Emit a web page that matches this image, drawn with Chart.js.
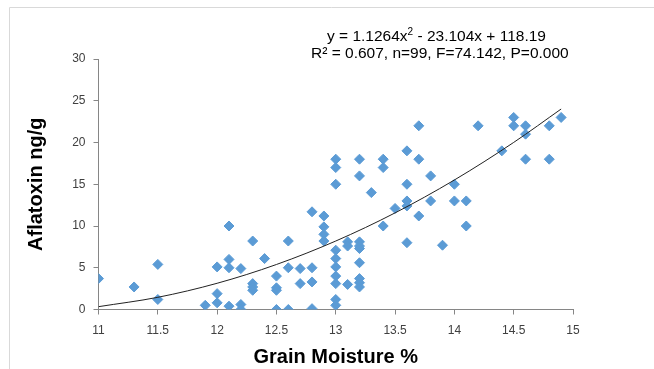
<!DOCTYPE html>
<html>
<head>
<meta charset="utf-8">
<script src="https://cdn.jsdelivr.net/npm/chart.js@4/dist/chart.umd.min.js"></script>
<style>
html,body{margin:0;padding:0;background:#fff;}
#wrap{width:654px;height:369px;position:relative;}
</style>
</head>
<body>
<div id="wrap"><canvas id="c" width="654" height="369"></canvas></div>
<script>
// Grain moisture (%) of each sample
const moisture = [
  11.0,
  11.3,
  11.5, 11.5,
  11.9,
  12.0, 12.0, 12.0,
  12.1, 12.1, 12.1, 12.1,
  12.2, 12.2, 12.2,
  12.3, 12.3, 12.3, 12.3,
  12.4,
  12.5, 12.5, 12.5, 12.5,
  12.6, 12.6, 12.6,
  12.7, 12.7,
  12.8, 12.8, 12.8, 12.8,
  12.9, 12.9, 12.9, 12.9,
  13.0, 13.0, 13.0, 13.0, 13.0, 13.0, 13.0, 13.0, 13.0, 13.0,
  13.1, 13.1, 13.1,
  13.2, 13.2, 13.2, 13.2, 13.2, 13.2, 13.2, 13.2, 13.2,
  13.3,
  13.4, 13.4, 13.4,
  13.5,
  13.6, 13.6, 13.6, 13.6, 13.6,
  13.7, 13.7, 13.7,
  13.8, 13.8,
  13.9,
  14.0, 14.0,
  14.1, 14.1,
  14.2,
  14.4,
  14.5, 14.5,
  14.6, 14.6, 14.6,
  14.8, 14.8,
  14.9
];
// Aflatoxin (ng/g) of each sample
const aflatoxin = [
  3.7,
  2.7,
  5.4, 1.2,
  0.5,
  5.1, 1.9, 0.8,
  10.0, 6.0, 5.0, 0.4,
  4.9, 0.6, 0.0,
  8.2, 3.1, 2.7, 2.3,
  6.1,
  4.0, 2.6, 2.3, 0.0,
  8.2, 5.0, 0.0,
  4.9, 3.1,
  11.7, 5.0, 3.3, 0.1,
  11.2, 9.9, 9.0, 8.2,
  18.0, 17.0, 15.0, 7.1, 6.1, 5.1, 4.0, 3.1, 1.2, 0.5,
  8.1, 7.6, 3.0,
  18.0, 16.0, 8.1, 7.6, 7.3, 5.6, 3.7, 3.2, 2.7,
  14.0,
  18.0, 17.0, 10.0,
  12.1,
  19.0, 15.0, 13.0, 12.4, 8.0,
  22.0, 18.0, 11.2,
  16.0, 13.0,
  7.7,
  15.0, 13.0,
  13.0, 10.0,
  22.0,
  19.0,
  23.0, 22.0,
  22.0, 21.0, 18.0,
  22.0, 18.0,
  23.0
];
// Polynomial trendline as drawn in the picture
const trendX = [11.0, 11.5, 12.0, 12.5, 13.0, 13.5, 14.0, 14.5, 14.9];
const trendY = [0.34, 1.46, 3.14, 5.39, 8.20, 11.57, 15.51, 20.01, 24.01];
const xTicks = [11, 11.5, 12, 12.5, 13, 13.5, 14, 14.5, 15];
const yTicks = [0, 5, 10, 15, 20, 25, 30];
const eqLine = 'y = 1.1264x² - 23.104x + 118.19';
const statLine = 'R² = 0.607, n=99, F=74.142, P=0.000';

const points = moisture.map((x, i) => ({x: x, y: aflatoxin[i]}));
const trend = trendX.map((x, i) => ({x: x, y: trendY[i]}));

const FONT = '"Liberation Sans", Arial, sans-serif';
const axisColor = '#868686';

const decor = {
  id: 'decor',
  beforeDraw(chart) {
    const ctx = chart.ctx;
    ctx.save();
    ctx.strokeStyle = '#d9d9d9';
    ctx.lineWidth = 1;
    ctx.beginPath();
    ctx.moveTo(9.5, 369);
    ctx.lineTo(9.5, 7.5);
    ctx.lineTo(654, 7.5);
    ctx.stroke();
    ctx.restore();
  },
  afterDraw(chart) {
    const ctx = chart.ctx;
    ctx.save();
    ctx.fillStyle = '#000';
    ctx.font = '15.5px ' + FONT;
    ctx.textBaseline = 'alphabetic';
    ctx.textAlign = 'left';
    // equation with superscript
    const parts = eqLine.split('²');
    let x = 327;
    const yb = 41;
    ctx.fillText(parts[0], x, yb);
    x += ctx.measureText(parts[0]).width;
    ctx.font = '10px ' + FONT;
    ctx.fillText('2', x, yb - 6);
    x += ctx.measureText('2').width;
    ctx.font = '15.5px ' + FONT;
    ctx.fillText(parts[1], x, yb);
    ctx.fillText(statLine, 311, 58);
    ctx.restore();
  }
};

new Chart(document.getElementById('c'), {
  type: 'scatter',
  data: {
    datasets: [
      {
        label: 'Aflatoxin',
        data: points,
        pointStyle: 'rectRot',
        pointRadius: 5,
        pointHoverRadius: 5,
        backgroundColor: '#5b9bd5',
        borderColor: '#5b9bd5',
        borderWidth: 1,
        order: 1
      },
      {
        label: 'Trend',
        type: 'line',
        data: trend,
        showLine: true,
        pointRadius: 0,
        borderColor: '#222',
        borderWidth: 1,
        cubicInterpolationMode: 'monotone',
        fill: false,
        order: 0
      }
    ]
  },
  options: {
    responsive: false,
    animation: false,
    events: [],
    layout: {padding: {left: 0, right: 81, top: 59, bottom: 0}},
    plugins: {legend: {display: false}, tooltip: {enabled: false}},
    scales: {
      x: {
        type: 'linear',
        min: 11, max: 15,
        afterBuildTicks(scale) { scale.ticks = xTicks.map(v => ({value: v})); },
        afterFit(scale) { scale.height = 59.5; },
        border: {display: true, color: axisColor, width: 1},
        grid: {display: true, drawOnChartArea: false, drawTicks: true, tickLength: 5, color: axisColor},
        ticks: {
          font: {family: FONT, size: 12},
          color: '#404040',
          padding: 9,
          maxRotation: 0,
          callback: v => String(v)
        },
        title: {
          display: true,
          text: 'Grain Moisture %',
          font: {family: FONT, size: 20, weight: 'bold'},
          color: '#000',
          padding: {top: 4, bottom: 0}
        }
      },
      y: {
        type: 'linear',
        min: 0, max: 30,
        afterBuildTicks(scale) { scale.ticks = yTicks.map(v => ({value: v})); },
        afterFit(scale) { scale.width = 98.5; },
        border: {display: true, color: axisColor, width: 1},
        grid: {display: true, drawOnChartArea: false, drawTicks: true, tickLength: 5, color: axisColor},
        ticks: {
          font: {family: FONT, size: 12},
          color: '#404040',
          padding: 8,
          callback: v => String(v)
        },
        title: {
          display: true,
          text: 'Aflatoxin ng/g',
          font: {family: FONT, size: 20, weight: 'bold'},
          color: '#000',
          padding: {top: 24, bottom: 0}
        }
      }
    }
  },
  plugins: [decor]
});
</script>
</body>
</html>
